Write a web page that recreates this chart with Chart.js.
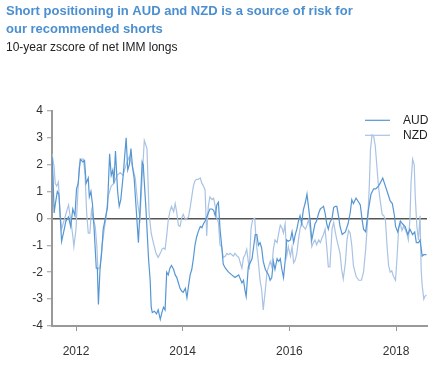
<!DOCTYPE html>
<html>
<head>
<meta charset="utf-8">
<script src="https://cdn.jsdelivr.net/npm/chart.js@4"></script>
<style>
  html, body { margin: 0; padding: 0; background: #fff; }
</style>
</head>
<body>
<canvas id="chart" width="446" height="365"></canvas>
<script>
const titleLines = ['Short positioning in AUD and NZD is a source of risk for', 'our recommended shorts'];
const subtitleText = '10-year zscore of net IMM longs';
const yearTicks = [2012, 2014, 2016, 2018];
const seriesNames = ['AUD', 'NZD'];

// [decimal year, zscore]
const audSeries = [
  [2011.55,2.3],[2011.57,1.5],[2011.59,0.2],[2011.61,0.5],[2011.65,1.0],[2011.68,0.9],[2011.73,-0.85],[2011.78,-0.4],
  [2011.81,-0.1],[2011.86,0.05],[2011.90,-0.3],[2011.94,0.35],[2011.98,0.1],
  [2012.01,1.1],[2012.04,1.3],[2012.08,2.2],[2012.13,2.1],[2012.16,2.15],[2012.19,1.3],[2012.23,1.5],[2012.25,0.8],
  [2012.28,1.0],[2012.31,0.5],[2012.34,-0.4],[2012.38,-1.85],[2012.40,-1.85],[2012.42,-3.2],[2012.45,-1.9],[2012.48,-1.3],
  [2012.51,-0.4],[2012.56,0.1],[2012.59,0.4],[2012.63,2.4],[2012.66,1.6],[2012.69,1.8],[2012.71,1.3],[2012.74,2.5],
  [2012.78,1.0],[2012.81,0.45],[2012.84,0.7],[2012.88,1.5],[2012.90,2.0],[2012.94,3.0],[2012.97,1.8],
  [2013.00,2.0],[2013.03,2.6],[2013.06,1.9],[2013.09,1.5],[2013.13,0.3],[2013.17,-0.9],[2013.20,0.3],[2013.24,2.1],
  [2013.26,2.0],[2013.31,0.4],[2013.36,-1.5],[2013.39,-2.3],[2013.41,-3.3],[2013.43,-3.5],[2013.47,-3.45],[2013.51,-3.55],
  [2013.54,-3.4],[2013.58,-3.75],[2013.61,-3.5],[2013.64,-3.3],[2013.67,-3.4],[2013.70,-2.0],[2013.73,-2.1],[2013.76,-1.85],
  [2013.79,-1.75],[2013.83,-1.9],[2013.86,-2.1],[2013.89,-2.2],[2013.92,-2.4],[2013.95,-2.6],[2013.98,-2.7],
  [2014.01,-2.75],[2014.05,-2.6],[2014.08,-2.95],[2014.11,-2.5],[2014.14,-2.1],[2014.17,-1.9],[2014.20,-1.5],[2014.23,-1.0],
  [2014.26,-0.7],[2014.29,-0.5],[2014.33,-0.3],[2014.36,-0.35],[2014.39,-0.2],[2014.42,-0.1],[2014.45,0.05],[2014.48,0.2],
  [2014.51,0.35],[2014.55,0.35],[2014.58,0.3],[2014.61,0.1],[2014.64,0.5],[2014.67,0.6],[2014.70,-0.4],[2014.73,-1.0],
  [2014.76,-1.7],[2014.80,-1.85],[2014.86,-2.0],[2014.92,-2.1],[2014.98,-2.2],
  [2015.05,-2.1],[2015.11,-2.4],[2015.14,-2.3],[2015.17,-2.7],[2015.19,-2.9],[2015.23,-1.8],[2015.30,-1.5],[2015.36,-0.6],
  [2015.39,-0.6],[2015.42,-1.0],[2015.45,-0.9],[2015.48,-1.1],[2015.51,-1.6],[2015.55,-1.9],[2015.58,-2.0],[2015.61,-2.1],
  [2015.64,-2.3],[2015.67,-2.2],[2015.70,-1.6],[2015.73,-1.9],[2015.77,-1.5],[2015.80,-1.6],[2015.83,-1.5],[2015.86,-1.9],
  [2015.89,-2.2],[2015.92,-1.6],[2015.95,-0.8],[2015.98,-0.85],
  [2016.02,-0.8],[2016.05,-0.5],[2016.08,-0.9],[2016.11,-0.6],[2016.14,-0.4],[2016.17,-0.1],[2016.20,0.1],[2016.23,-0.2],
  [2016.26,0.3],[2016.30,0.6],[2016.33,0.9],[2016.36,0.4],[2016.39,-0.1],[2016.42,-0.8],[2016.45,-0.5],[2016.48,-0.2],
  [2016.51,-0.1],[2016.55,0.2],[2016.58,0.35],[2016.61,0.4],[2016.64,0.45],[2016.67,0.2],[2016.70,-0.2],[2016.73,-0.4],
  [2016.76,-0.15],[2016.80,0.0],[2016.83,0.4],[2016.86,0.45],[2016.89,0.45],[2016.92,0.1],[2016.95,-0.3],[2016.99,-0.6],
  [2017.05,-0.5],[2017.10,-0.2],[2017.14,0.2],[2017.17,0.7],[2017.20,0.55],[2017.25,0.75],[2017.30,0.6],[2017.33,0.5],
  [2017.36,0.0],[2017.39,-0.4],[2017.43,-0.5],[2017.48,0.3],[2017.53,0.9],[2017.58,1.1],[2017.62,1.1],[2017.67,1.2],
  [2017.70,1.3],[2017.75,1.5],[2017.80,1.2],[2017.85,0.9],[2017.89,0.65],[2017.93,0.55],[2017.97,0.1],[2017.99,-0.3],
  [2018.03,-0.5],[2018.08,-0.1],[2018.12,-0.2],[2018.17,-0.3],[2018.22,-0.6],[2018.26,-0.4],[2018.31,-0.6],[2018.35,-0.5],
  [2018.38,-0.9],[2018.42,-0.9],[2018.45,-0.8],[2018.49,-1.4],[2018.52,-1.35],[2018.57,-1.35]
];

const nzdSeries = [
  [2011.55,2.4],[2011.59,1.9],[2011.61,1.3],[2011.64,1.2],[2011.67,1.35],[2011.70,0.2],[2011.73,-0.4],[2011.78,-0.05],
  [2011.83,0.3],[2011.86,0.5],[2011.90,-0.05],[2011.94,-0.65],[2011.96,-1.05],
  [2012.00,-0.4],[2012.02,0.4],[2012.06,1.9],[2012.09,2.2],[2012.14,2.2],[2012.17,1.6],[2012.20,0.2],[2012.23,-0.55],
  [2012.26,-0.55],[2012.29,0.3],[2012.32,0.0],[2012.36,-0.3],[2012.39,-1.0],[2012.41,-1.9],[2012.45,-1.8],[2012.49,-1.0],
  [2012.53,-0.4],[2012.56,0.0],[2012.60,0.8],[2012.66,1.2],[2012.71,1.3],[2012.77,1.6],[2012.83,1.7],[2012.88,1.6],
  [2012.94,2.0],
  [2013.00,2.3],[2013.05,2.0],[2013.11,1.5],[2013.16,0.5],[2013.20,0.0],[2013.24,1.5],[2013.28,2.9],[2013.33,2.6],
  [2013.37,0.2],[2013.41,-0.55],[2013.45,-0.9],[2013.50,-1.3],[2013.54,-1.45],[2013.58,-1.3],[2013.61,-1.15],[2013.64,-1.1],
  [2013.67,-1.15],[2013.70,-0.65],[2013.73,-0.05],[2013.76,0.25],[2013.79,0.45],[2013.83,0.25],[2013.86,0.55],[2013.89,0.2],
  [2013.92,-0.25],[2013.95,-0.3],[2013.98,0.0],
  [2014.01,0.15],[2014.05,-0.05],[2014.08,0.0],[2014.11,0.05],[2014.14,0.4],[2014.17,0.8],[2014.20,1.2],[2014.23,1.4],
  [2014.26,1.45],[2014.29,1.45],[2014.33,1.5],[2014.36,1.3],[2014.39,1.2],[2014.42,1.05],[2014.45,-0.65],[2014.48,0.45],
  [2014.51,0.8],[2014.55,0.7],[2014.58,0.75],[2014.61,0.45],[2014.64,0.0],[2014.67,-0.15],[2014.70,-1.0],[2014.73,-1.05],
  [2014.76,-1.45],[2014.80,-1.4],[2014.83,-1.3],[2014.86,-1.35],[2014.89,-1.3],[2014.92,-1.35],[2014.95,-1.4],[2014.98,-1.3],
  [2015.02,-1.4],[2015.05,-1.45],[2015.08,-1.65],[2015.11,-1.85],[2015.14,-1.45],[2015.17,-1.35],[2015.20,-1.15],[2015.25,-1.9],
  [2015.28,-0.4],[2015.31,-0.05],[2015.35,0.0],[2015.38,-0.9],[2015.42,-1.65],[2015.45,-2.3],[2015.48,-2.65],[2015.51,-3.4],
  [2015.55,-2.65],[2015.58,-2.0],[2015.61,-1.8],[2015.64,-1.6],[2015.67,-1.8],[2015.70,-1.15],[2015.73,-0.8],[2015.77,-0.9],
  [2015.80,-0.55],[2015.83,-0.25],[2015.86,-0.35],[2015.89,-0.55],[2015.92,-0.2],[2015.95,-1.4],[2015.98,-1.05],
  [2016.02,-1.4],[2016.05,-1.05],[2016.08,-1.65],[2016.11,-1.55],[2016.14,-1.3],[2016.17,-0.8],[2016.20,-0.4],[2016.23,-0.15],
  [2016.26,-0.3],[2016.30,-0.4],[2016.33,-0.25],[2016.36,-0.05],[2016.39,-0.4],[2016.42,-1.05],[2016.45,-0.9],[2016.48,-0.8],
  [2016.51,-0.98],[2016.55,-0.8],[2016.58,-0.9],[2016.61,-0.73],[2016.64,-0.6],[2016.67,-0.4],[2016.70,-1.05],[2016.73,-1.8],
  [2016.76,-1.8],[2016.80,-0.4],[2016.83,-0.15],[2016.86,-0.5],[2016.89,-0.8],[2016.95,-1.3],[2016.98,-1.9],
  [2017.01,-2.25],[2017.05,-1.65],[2017.08,-0.8],[2017.11,-0.45],[2017.14,-0.55],[2017.17,-1.0],[2017.20,-1.75],[2017.25,-2.15],
  [2017.30,-2.3],[2017.35,-2.3],[2017.39,-2.0],[2017.43,-1.15],[2017.47,0.0],[2017.50,1.3],[2017.52,2.55],[2017.55,3.1],
  [2017.58,3.05],[2017.61,2.7],[2017.64,1.95],[2017.67,1.2],[2017.70,0.7],[2017.74,0.15],[2017.77,0.1],[2017.80,-0.05],
  [2017.83,-1.0],[2017.86,-1.75],[2017.89,-2.0],[2017.92,-1.95],[2017.95,-2.15],[2017.99,-2.3],
  [2018.02,-1.4],[2018.05,-0.35],[2018.08,-0.2],[2018.11,-0.45],[2018.14,-0.3],[2018.17,-0.4],[2018.20,-0.55],[2018.23,-0.8],
  [2018.26,-0.05],[2018.28,1.3],[2018.31,2.2],[2018.34,2.0],[2018.36,0.8],[2018.39,-0.3],[2018.42,-0.8],[2018.45,0.1],
  [2018.47,-1.9],[2018.49,-2.5],[2018.52,-3.0],[2018.54,-2.9],[2018.57,-2.85]
];

const seriesColors = ['#5596d3', '#a9c3e3'];
const fontFamily = '"Liberation Sans", Arial, sans-serif';

// legend drawn inside the plot, top right
const insideLegend = {
  id: 'insideLegend',
  afterDatasetsDraw(chart) {
    const ctx = chart.ctx;
    const area = chart.chartArea;
    ctx.save();
    ctx.font = '12px ' + fontFamily;
    ctx.textBaseline = 'middle';
    chart.data.datasets.forEach((ds, i) => {
      const y = area.top + 9.5 + i * 15;
      ctx.strokeStyle = ds.borderColor;
      ctx.lineWidth = 1.2;
      ctx.beginPath();
      ctx.moveTo(area.right - 62, y);
      ctx.lineTo(area.right - 37, y);
      ctx.stroke();
      ctx.fillStyle = '#222';
      ctx.fillText(ds.label, area.right - 24, y);
    });
    ctx.restore();
  }
};

new Chart(document.getElementById('chart'), {
  type: 'line',
  data: {
    datasets: [audSeries, nzdSeries].map((s, i) => ({
      label: seriesNames[i],
      data: s.map(p => ({ x: p[0], y: p[1] })),
      borderColor: seriesColors[i],
      borderWidth: 1.2,
      pointRadius: 0,
      tension: 0,
      fill: false,
    })),
  },
  options: {
    responsive: false,
    animation: false,
    devicePixelRatio: 1,
    layout: { padding: { left: 6, right: 19, top: 0, bottom: 0 } },
    scales: {
      x: {
        type: 'linear',
        min: 2011.55,
        max: 2018.58,
        afterBuildTicks: (scale) => { scale.ticks = yearTicks.map(v => ({ value: v })); },
        afterFit: (scale) => { scale.height = 39; },
        ticks: {
          autoSkip: false,
          maxRotation: 0,
          padding: 13,
          color: '#333',
          font: { family: fontFamily, size: 12 },
          callback: (v) => String(v),
        },
        grid: { drawOnChartArea: false, drawTicks: true, tickLength: 5, tickColor: '#999' },
        border: { color: '#999', width: 2 },
      },
      y: {
        min: -4,
        max: 4,
        afterFit: (scale) => { scale.width = 46; },
        ticks: {
          stepSize: 1,
          padding: 4,
          color: '#333',
          font: { family: fontFamily, size: 12 },
        },
        grid: {
          color: (c) => (c.tick && c.tick.value === 0 ? '#555' : 'rgba(0,0,0,0)'),
          lineWidth: 1.5,
          drawTicks: true,
          tickLength: 5,
          tickColor: '#999',
          tickWidth: 1,
        },
        border: { color: '#999', width: 2 },
      },
    },
    plugins: {
      legend: { display: false },
      tooltip: { enabled: false },
      title: {
        display: true,
        text: titleLines,
        align: 'start',
        color: '#4b8fd0',
        font: { family: fontFamily, size: 13, weight: 'bold', lineHeight: 1.4 },
        padding: { top: 2, bottom: 0 },
      },
      subtitle: {
        display: true,
        text: subtitleText,
        align: 'start',
        color: '#222',
        font: { family: fontFamily, size: 12, lineHeight: 1.2 },
        padding: { top: 2, bottom: 56 },
      },
    },
  },
  plugins: [insideLegend],
});
</script>
</body>
</html>
